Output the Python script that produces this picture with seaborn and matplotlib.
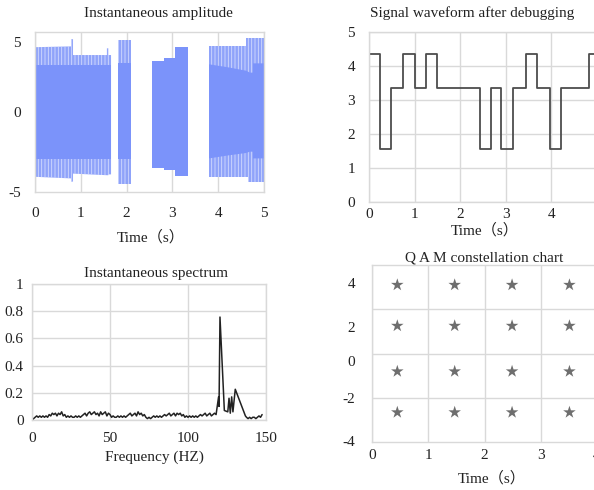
import numpy as np
import pandas as pd
import matplotlib
matplotlib.use("Agg")
import matplotlib.pyplot as plt
import seaborn as sns

# ---------------- data ----------------
nan = np.nan
# Instantaneous amplitude: envelope of the dense signal (segments separated by NaN)
amp_t    = [0.00, 0.79, 0.79, 0.83, 0.83, 1.57, 1.57, 1.60, 1.60, 1.66, nan,
            1.82, 2.10, nan,
            2.55, 2.82, 2.82, 3.06, 3.06, 3.33, nan,
            3.80, 4.20, 4.61, 4.61, 4.65, 4.65, 4.69, 4.76, 4.76, 5.00]
amp_hi   = [4.05, 4.10, 4.55, 4.55, 3.56, 3.56, 3.98, 3.98, 3.56, 3.56, nan,
            4.50, 4.50, nan,
            3.19, 3.19, 3.37, 3.37, 4.04, 4.04, nan,
            4.10, 4.10, 4.10, 4.60, 4.60, 4.60, 4.60, 4.60, 4.60, 4.60]
amp_lo   = [-4.05, -4.15, -4.35, -4.35, -3.85, -3.95, -3.95, -3.95, -3.90, -3.90, nan,
            -4.50, -4.50, nan,
            -3.52, -3.52, -3.65, -3.65, -4.00, -4.00, nan,
            -4.04, -4.04, -4.04, -4.04, -4.04, -4.35, -4.35, -4.35, -4.35, -4.35]
core_hi  = [2.95, 2.95, 2.95, 2.95, 2.95, 2.95, 2.95, 2.95, 2.95, 2.95, nan,
            3.04, 3.04, nan,
            3.19, 3.19, 3.37, 3.37, 4.04, 4.04, nan,
            2.98, 2.80, 2.58, 2.58, 2.52, 2.52, 2.46, 2.46, 3.04, 3.04]
core_lo  = [-2.96, -2.96, -2.96, -2.96, -2.96, -2.96, -2.96, -2.96, -2.96, -2.96, nan,
            -2.96, -2.96, nan,
            -3.52, -3.52, -3.65, -3.65, -4.00, -4.00, nan,
            -2.90, -2.72, -2.56, -2.56, -2.52, -2.52, -2.48, -2.48, -2.90, -2.90]

# Signal waveform after debugging (step levels, post-step)
wave_t = [0.00, 0.234, 0.49, 0.746, 1.00, 1.24, 1.49, 2.43, 2.67, 2.90, 3.16,
          3.44, 3.69, 3.96, 4.22, 4.83, 5.00]
wave_v = [4.35, 1.55, 3.35, 4.35, 3.35, 4.35, 3.35, 1.55, 3.35, 1.55, 3.35,
          4.35, 3.35, 1.55, 3.35, 4.35, 4.35]

# Instantaneous spectrum
noise_v = [0.00, 0.01, 0.02, 0.03, 0.02, 0.03, 0.02, 0.03, 0.02, 0.03, 0.02,
           0.04, 0.03, 0.05, 0.04, 0.05, 0.03, 0.05, 0.04, 0.06, 0.03, 0.04,
           0.02, 0.03, 0.02, 0.03, 0.02, 0.02, 0.03, 0.02, 0.03, 0.02, 0.03,
           0.04, 0.05, 0.03, 0.05, 0.06, 0.04, 0.05, 0.06, 0.04, 0.05, 0.03,
           0.06, 0.04, 0.05, 0.06, 0.03, 0.05, 0.04,
           0.02, 0.03, 0.02, 0.02, 0.03, 0.02, 0.03, 0.02, 0.03, 0.02,
           0.03, 0.04, 0.05, 0.03, 0.04, 0.05, 0.03, 0.06, 0.04, 0.05, 0.03, 0.04,
           0.02, 0.01, 0.02, 0.01, 0.02, 0.03, 0.02, 0.03, 0.02, 0.03, 0.02, 0.03,
           0.04, 0.03, 0.04, 0.05, 0.03, 0.04, 0.05, 0.03, 0.05, 0.04, 0.05, 0.03, 0.04,
           0.02, 0.03, 0.02, 0.03, 0.02, 0.03, 0.02, 0.03, 0.02, 0.03, 0.04,
           0.03, 0.04, 0.05, 0.03, 0.04, 0.05, 0.03, 0.04, 0.05, 0.04]
peak_f = [119.6, 119.9, 120.5, 123.3, 125.5, 126.3, 127.1, 128.0, 128.8, 130.3,
          136.8, 137.5, 138.5, 139.5, 140.5, 141.5, 142.5, 143.5, 144.5, 145.5,
          146.5, 147.5]
peak_v = [0.17, 0.10, 0.757, 0.07, 0.06, 0.16, 0.05, 0.17, 0.06, 0.226,
          0.03, 0.02, 0.01, 0.02, 0.01, 0.02, 0.02, 0.01, 0.02, 0.03,
          0.02, 0.04]

# QAM constellation
qam_x = [0.45, 1.47, 2.49, 3.51]
qam_y = [3.10, 1.25, -0.81, -2.66]

# ---------------- style ----------------
sns.set_theme(style="white")
plt.rcParams['font.family'] = ['Liberation Serif', 'Noto Sans CJK SC']
plt.rcParams['hatch.linewidth'] = 0.6
FONT = ['Liberation Serif', 'Noto Sans CJK SC']
FS = 11
GRID = '#d9d9d9'
BLUE = '#7b93fa'
W, H = 594, 490

fig = plt.figure(figsize=(W / 100, H / 100), dpi=100)


def px_axes(l, t, r, b):
    return fig.add_axes([l / W, 1 - b / H, (r - l) / W, (b - t) / H])


def style(ax, xpad, ypad):
    ax.set_facecolor('white')
    for s in ax.spines.values():
        s.set_color(GRID)
        s.set_linewidth(1.0)
    ax.tick_params(length=0, labelsize=FS, colors='#222222')
    ax.tick_params(axis='x', pad=xpad)
    ax.tick_params(axis='y', pad=ypad)
    ax.grid(True, color=GRID, linewidth=1.0)
    ax.set_axisbelow(True)
    ax.set_xlabel('')
    ax.set_ylabel('')


def ftext(x, y, s):
    fig.text(x / W, 1 - y / H, s, ha='center', va='center', fontsize=FS,
             family=FONT, color='#222222')


# ---- top-left: instantaneous amplitude ----
ax1 = px_axes(35, 32, 264, 192)
t = np.array(amp_t, dtype=float)
ax1.fill_between(t, amp_lo, amp_hi, facecolor=BLUE, alpha=0.85,
                 edgecolor='#dfe5fe', hatch='|||||', linewidth=0)
ax1.fill_between(t, core_lo, core_hi, color=BLUE, alpha=1.0, linewidth=0)
ax1.set_xlim(0, 5)
ax1.set_ylim(-5, 5)
ax1.set_xticks([0, 1, 2, 3, 4, 5])
ax1.set_yticks([4.4, 0, -5])
ax1.set_yticklabels(['5', '0', '-5'])
style(ax1, 11, 10)
ax1.set_yticks([0], minor=True)
ax1.yaxis.grid(False, which='major')
ax1.yaxis.grid(True, which='minor', color=GRID, linewidth=1.0)
ax1.tick_params(which='minor', length=0)
ftext(158, 14, 'Instantaneous amplitude')
ftext(151, 237, 'Time（s）')

# ---- top-right: signal waveform ----
ax2 = px_axes(369, 32, 597, 202)
wave_df = pd.DataFrame({'t': wave_t, 'v': wave_v})
sns.lineplot(data=wave_df, x='t', y='v', ax=ax2, drawstyle='steps-post',
             estimator=None, color='#4d4d4d', linewidth=1.3)
ax2.set_xlim(0, 5)
ax2.set_ylim(0, 5)
ax2.set_xticks([0, 1, 2, 3, 4, 5])
ax2.set_yticks([0, 1, 2, 3, 4, 5])
style(ax2, 4, 10)
ftext(472, 13, 'Signal waveform after debugging')
ftext(485, 230, 'Time（s）')

# ---- bottom-left: spectrum ----
ax3 = px_axes(32, 284, 266, 420)
spec_f = list(range(len(noise_v))) + peak_f
spec_v = noise_v + peak_v
spec_df = pd.DataFrame({'f': spec_f, 'a': spec_v})
sns.lineplot(data=spec_df, x='f', y='a', ax=ax3, estimator=None,
             color='#222222', linewidth=1.1)
ax3.set_xlim(0, 150)
ax3.set_ylim(0, 1)
ax3.set_xticks([0, 50, 100, 150])
ax3.set_yticks([0, 0.2, 0.4, 0.6, 0.8, 1.0])
ax3.set_yticklabels(['0', '0.2', '0.4', '0.6', '0.8', '1'])
style(ax3, 9, 6)
ftext(156, 273, 'Instantaneous spectrum')
ftext(154, 457, 'Frequency (HZ)')

# ---- bottom-right: QAM constellation ----
ax4 = px_axes(372, 265, 597, 442)
qx, qy = np.meshgrid(qam_x, qam_y)
qam_df = pd.DataFrame({'x': qx.ravel(), 'y': qy.ravel()})
sns.scatterplot(data=qam_df, x='x', y='y', ax=ax4, marker='*', s=90,
                color='#6e6e6e', edgecolor='none', legend=False)
ax4.set_xlim(0, 4)
ax4.set_ylim(-4, 4)
ax4.set_xticks([0, 1, 2, 3, 4])
ax4.set_yticks([3.17, 1.22, -0.36, -2.02, -3.97])
ax4.set_yticklabels(['4', '2', '0', '-2', '-4'])
style(ax4, 5, 12)
ax4.set_yticks([-2, 0, 2], minor=True)
ax4.yaxis.grid(False, which='major')
ax4.yaxis.grid(True, which='minor', color=GRID, linewidth=1.0)
ax4.tick_params(which='minor', length=0)
ftext(484, 258, 'Q A M constellation chart')
ftext(492, 478, 'Time（s）')

fig.savefig('out.png', dpi=100)
